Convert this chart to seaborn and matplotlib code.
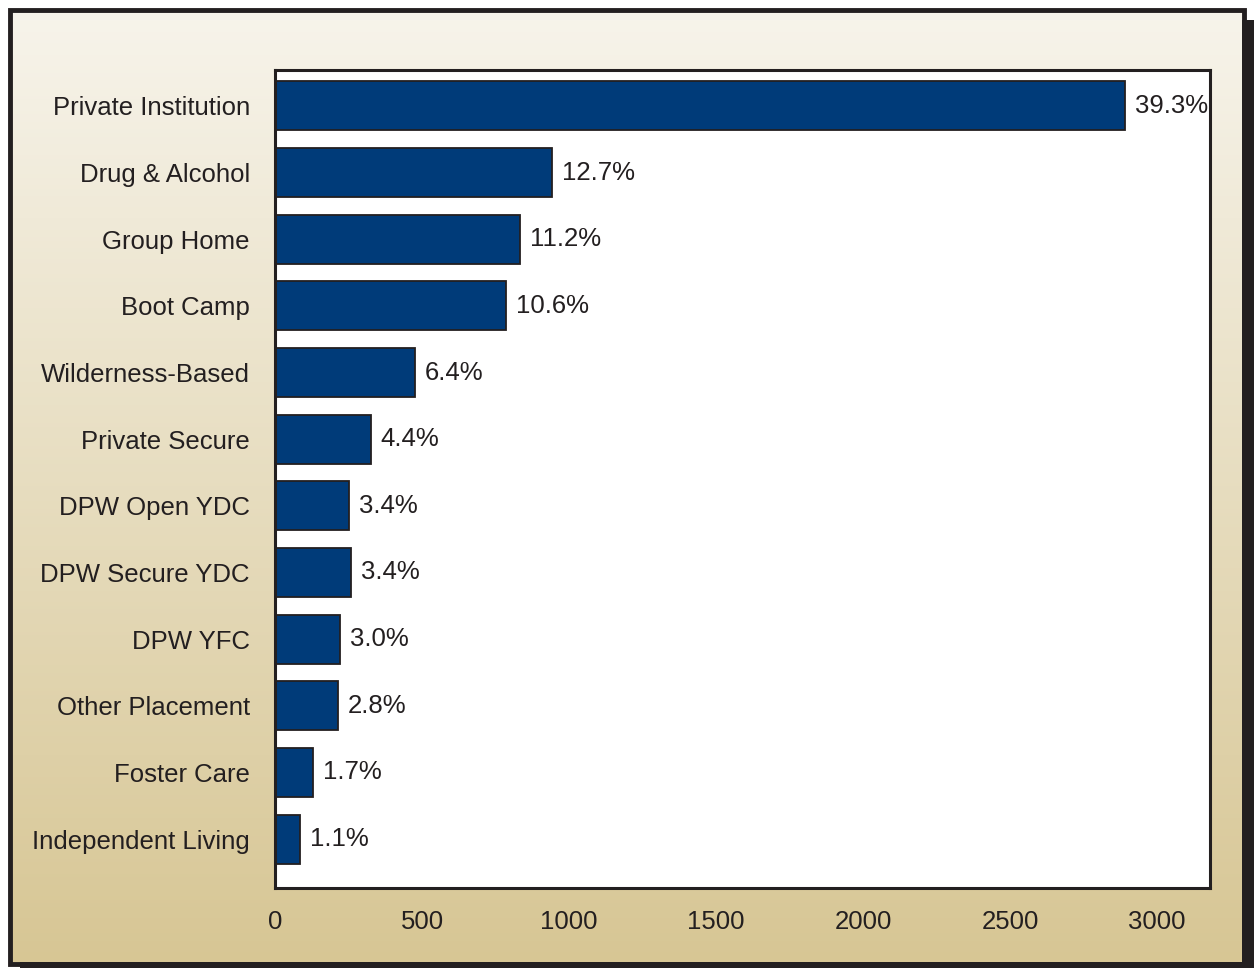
import numpy as np
import pandas as pd
import matplotlib
matplotlib.use("Agg")
import matplotlib.pyplot as plt
from matplotlib.patches import Rectangle
import seaborn as sns

categories = ["Private Institution", "Drug & Alcohol", "Group Home", "Boot Camp",
              "Wilderness-Based", "Private Secure", "DPW Open YDC", "DPW Secure YDC",
              "DPW YFC", "Other Placement", "Foster Care", "Independent Living"]
counts = [2891, 943, 834, 787, 477, 327, 252, 259, 221, 214, 129, 85]
percent_labels = ["39.3%", "12.7%", "11.2%", "10.6%", "6.4%", "4.4%", "3.4%", "3.4%",
                  "3.0%", "2.8%", "1.7%", "1.1%"]
x_ticks = [0, 500, 1000, 1500, 2000, 2500, 3000]

df = pd.DataFrame({"category": categories, "count": counts})

sns.set_theme(style="white")
plt.rcParams["font.family"] = ["Liberation Sans", "DejaVu Sans"]

W, H = 1254, 968
fig = plt.figure(figsize=(W / 100, H / 100), dpi=100)

# background axes in pixel coordinates (y down)
bg = fig.add_axes([0, 0, 1, 1], zorder=0)
bg.set_xlim(0, W)
bg.set_ylim(H, 0)
bg.axis("off")
grad = np.linspace(0, 1, 256)[:, None]
top = np.array([247, 244, 235]) / 255
bot = np.array([215, 198, 148]) / 255
img = top[None, None, :] * (1 - grad[:, :, None]) + bot[None, None, :] * grad[:, :, None]
bg.imshow(img, extent=[10, 1244, 963, 10], aspect="auto", zorder=1)
dark = "#231f20"
# shadow
bg.add_patch(Rectangle((1242, 20), 12, 948, facecolor=dark, edgecolor="none", zorder=2))
bg.add_patch(Rectangle((20, 962), 1234, 6, facecolor=dark, edgecolor="none", zorder=2))
# frame
bg.add_patch(Rectangle((9.5, 9.5), 1234, 954, facecolor="none", edgecolor=dark, linewidth=3.5, zorder=3))

ax = fig.add_axes([275 / W, (H - 888) / H, (1210 - 275) / W, (888 - 70) / H], zorder=2)
ax.set_facecolor("white")
sns.barplot(data=df, x="count", y="category", orient="h", color="#003b79",
            edgecolor=dark, linewidth=1.3, width=0.735, saturation=1, ax=ax)
ax.set_xlim(0, 3180)
ax.set_ylim(11.735, -0.54)
ax.set_xticks(x_ticks)
ax.set_xticklabels([str(t) for t in x_ticks])
ax.set_xlabel("")
ax.set_ylabel("")
ax.tick_params(axis="x", length=0, pad=16, labelsize=18.5, labelcolor=dark)
ax.tick_params(axis="y", length=0, pad=18, labelsize=18.5, labelcolor=dark)
for lbl in ax.get_yticklabels():
    lbl.set_y(lbl.get_position()[1])
for s in ax.spines.values():
    s.set_visible(True)
    s.set_color(dark)
    s.set_linewidth(2.2)

ax.bar_label(ax.containers[0], labels=percent_labels, padding=7, fontsize=18.5, color=dark)

fig.savefig("out.png", dpi=100)
